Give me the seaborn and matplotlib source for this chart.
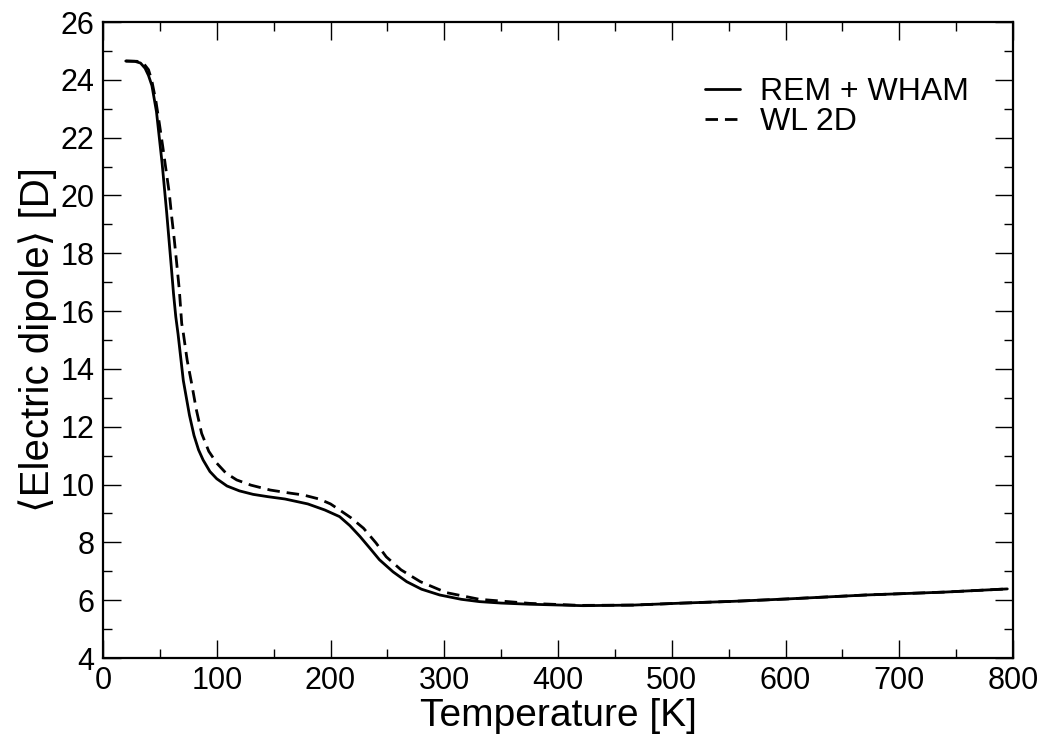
import matplotlib
matplotlib.use("Agg")
import matplotlib.pyplot as plt
import seaborn as sns
import pandas as pd
from matplotlib.ticker import MultipleLocator

# ---- data ----
rem_T = [20, 28, 33, 37, 40, 43, 47, 52, 56, 60, 62, 64, 66, 70.6, 76, 80, 84, 88, 94, 100,
         109, 120, 132, 145, 160, 180, 195, 208, 217, 226, 235, 243, 255, 267, 280, 296,
         315, 331, 350, 375, 422, 466, 510, 554, 600, 671, 740, 795]
rem_D = [24.65, 24.64, 24.58, 24.4, 24.15, 23.8, 22.9, 21.1, 19.4, 17.55, 16.6, 15.8, 15.2,
         13.6, 12.4, 11.7, 11.2, 10.85, 10.45, 10.2, 9.95, 9.78, 9.66, 9.58, 9.5, 9.33,
         9.12, 8.89, 8.58, 8.2, 7.78, 7.4, 6.98, 6.64, 6.38, 6.18, 6.03, 5.95, 5.9, 5.86,
         5.81, 5.83, 5.9, 5.96, 6.04, 6.18, 6.28, 6.39]

wl_T = [20, 30, 36, 40, 42.8, 46.6, 49.5, 52.5, 55.4, 58.3, 60.4, 62.7, 64.8, 67.1, 69.2,
        70.6, 74, 77.9, 82, 86.7, 93, 100, 108, 117.5, 130, 147, 165, 176, 190, 200, 208,
        218, 229, 240, 249, 262, 279, 302, 331, 375, 420, 466, 510, 554, 600, 671, 740, 795]
wl_D = [24.65, 24.64, 24.55, 24.35, 23.99, 23.24, 22.5, 21.7, 20.88, 20.07, 19.26, 18.46,
        17.65, 16.73, 15.57, 15.24, 14.3, 13.5, 12.6, 11.77, 11.15, 10.74, 10.4, 10.16,
        9.98, 9.81, 9.7, 9.64, 9.5, 9.33, 9.12, 8.85, 8.49, 7.98, 7.5, 7.05, 6.64, 6.26,
        6.03, 5.89, 5.82, 5.83, 5.9, 5.96, 6.04, 6.18, 6.28, 6.39]

series_names = ["REM + WHAM", "WL 2D"]
x_ticks = [0, 100, 200, 300, 400, 500, 600, 700, 800]
y_ticks = [4, 6, 8, 10, 12, 14, 16, 18, 20, 22, 24, 26]

df = pd.concat([
    pd.DataFrame({"T": rem_T, "D": rem_D, "method": series_names[0]}),
    pd.DataFrame({"T": wl_T, "D": wl_D, "method": series_names[1]}),
], ignore_index=True)

sns.set_theme(style="ticks")
plt.rcParams["font.family"] = ["Liberation Sans", "DejaVu Sans"]
plt.rcParams["text.color"] = "black"
plt.rcParams["axes.labelcolor"] = "black"
plt.rcParams["xtick.color"] = "black"
plt.rcParams["ytick.color"] = "black"

fig = plt.figure(figsize=(10.45, 7.37), dpi=100)
ax = fig.add_axes([103 / 1045, 1 - 658 / 737, (1013 - 103) / 1045, (658 - 22) / 737])

sns.lineplot(data=df, x="T", y="D", style="method", color="black", linewidth=2.0,
             dashes={series_names[0]: "", series_names[1]: (4.5, 2.5)}, sort=False,
             estimator=None, ax=ax)

ax.set_xlim(0, 800)
ax.set_ylim(4, 26)
ax.set_xticks(x_ticks)
ax.set_yticks(y_ticks)
ax.xaxis.set_minor_locator(MultipleLocator(50))
ax.yaxis.set_minor_locator(MultipleLocator(1))
ax.tick_params(which="both", direction="in", top=True, right=True, colors="black",
               labelcolor="black")
ax.tick_params(which="major", length=13, width=1.0, labelsize=22, pad=6)
ax.tick_params(which="minor", length=6.5, width=1.0)
for s in ax.spines.values():
    s.set_linewidth(1.6)
    s.set_color("black")

ax.set_xlabel("Temperature [K]", fontsize=28, labelpad=1)
ax.set_ylabel("\u27e8Electric dipole\u27e9 [D]", fontsize=29, labelpad=2.5)

leg = ax.legend(loc="upper left", bbox_to_anchor=(705 / 1045, 1 - 77 / 737),
                bbox_transform=fig.transFigure, frameon=False, fontsize=23,
                handlelength=1.1, handletextpad=0.62, labelspacing=0.0, borderpad=0,
                borderaxespad=0)
for h in leg.get_lines():
    h.set_linewidth(2.0)
for t in leg.get_texts():
    t.set_color("black")

fig.savefig("out.png", dpi=100)
